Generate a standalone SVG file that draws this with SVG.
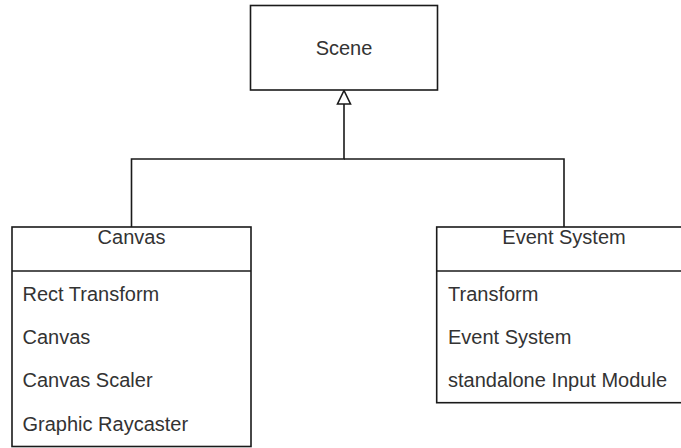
<svg xmlns="http://www.w3.org/2000/svg" width="681" height="448" viewBox="0 0 681 448">
  <style>
    .box { fill: #ffffff; stroke: #1a1a1a; stroke-width: 1.6; }
    .line { fill: none; stroke: #1a1a1a; stroke-width: 1.6; }
    .txt { font-family: "Liberation Sans", Arial, sans-serif; font-size: 20px; fill: #333333; }
    .mid { text-anchor: middle; }
  </style>
  <rect width="681" height="448" fill="#ffffff"/>

  <!-- inheritance connectors -->
  <g id="connectors">
    <polyline class="line" points="131.5,227 131.5,159 344,159 344,104"/>
    <polyline class="line" points="564,227 564,159 344,159"/>
    <polygon points="344,90.5 337.5,104 350.5,104" fill="#ffffff" stroke="#1a1a1a" stroke-width="1.6"/>
  </g>

  <g id="scene">
    <rect class="box" x="250.5" y="5.5" width="187" height="84.5"/>
    <text class="txt mid" x="344" y="55">Scene</text>
  </g>

  <g id="canvas">
    <rect class="box" x="12" y="227" width="239" height="219.5"/>
    <line class="line" x1="12" y1="271" x2="251" y2="271"/>
    <text class="txt mid" x="131.5" y="244">Canvas</text>
    <text class="txt" x="22.5" y="301">Rect Transform</text>
    <text class="txt" x="22.5" y="344">Canvas</text>
    <text class="txt" x="22.5" y="387">Canvas Scaler</text>
    <text class="txt" x="22.5" y="431">Graphic Raycaster</text>
  </g>

  <g id="event-system">
    <rect class="box" x="436.7" y="227" width="254.6" height="175.7"/>
    <line class="line" x1="436.7" y1="271" x2="691.3" y2="271"/>
    <text class="txt mid" x="564" y="244">Event System</text>
    <text class="txt" x="448" y="301">Transform</text>
    <text class="txt" x="448" y="344">Event System</text>
    <text class="txt" x="448" y="387">standalone Input Module</text>
  </g>
</svg>
